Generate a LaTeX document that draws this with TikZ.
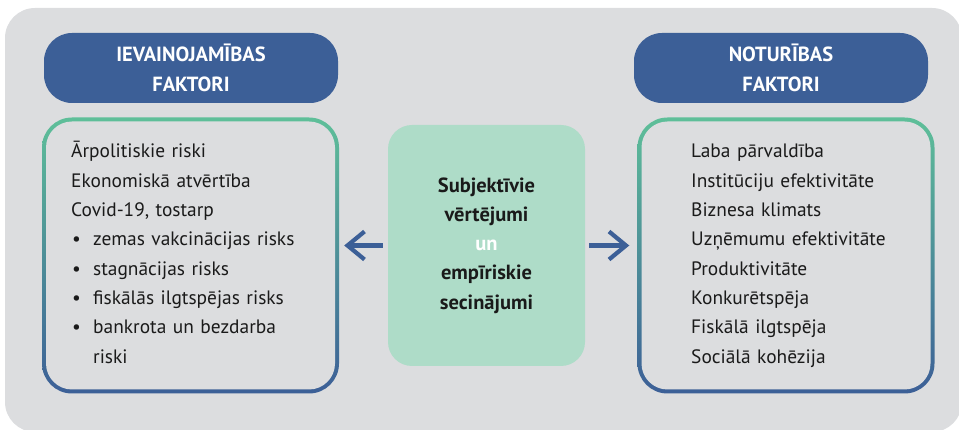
\documentclass[tikz,border=0pt]{standalone}
\usepackage{fontspec}
\setmainfont{PT Sans}
\usetikzlibrary{arrows.meta}
\definecolor{bggrey}{HTML}{DCDDDF}
\definecolor{hblue}{HTML}{3C5F97}
\definecolor{tgreen}{HTML}{5EBF99}
\definecolor{cfill}{HTML}{AEDCC8}
\definecolor{txt}{HTML}{1A1A1A}
\tikzset{
  header/.style={fill=hblue, rounded corners=28pt, minimum width=294pt, minimum height=70pt,
    inner sep=0pt, text=white, font=\bfseries\fontsize{20.5}{30}\selectfont, align=center},
  gradbox/.style={top color=tgreen, bottom color=hblue, draw=none, rounded corners=30pt,
    minimum width=297pt, minimum height=276pt, inner sep=0pt},
  innerbox/.style={fill=bggrey, rounded corners=26pt, minimum width=289pt,
    minimum height=268pt, inner sep=0pt},
  listtext/.style={anchor=base west, inner sep=0pt, text width=250pt, align=left,
    text=txt, font=\fontsize{19.4}{29.3}\selectfont},
  centerbox/.style={fill=cfill, rounded corners=24pt, minimum width=197pt,
    minimum height=241pt, inner sep=0pt, align=center, text=txt,
    font=\bfseries\fontsize{20.5}{29.2}\selectfont},
  arr/.style={draw=hblue, line width=4.2pt, -{Straight Barb[length=17pt,width=28pt]}},
  bgpanel/.style={fill=bggrey, rounded corners=30pt}
}
\newcommand{\bul}{\makebox[22pt][l]{\hspace{1pt}\textbullet}}
\begin{document}
\begin{tikzpicture}[x=1pt,y=1pt]
\useasboundingbox (0,0) rectangle (959,-430);
\fill[bgpanel] (5,-8) rectangle (962,-432);
% headers
\node[header] (lhead) at (191,-68) {IEVAINOJAMĪBAS\\FAKTORI};
\node[header] (rhead) at (781,-68) {NOTURĪBAS\\FAKTORI};
% left box
\node[gradbox] (lbox) at (190.5,-255.5) {};
\node[innerbox] (lin) at (lbox.center) {};
\node[listtext] (ltext) at (71,-158) {Ārpolitiskie riski\\
Ekonomiskā atvērtība\\
Covid-19, tostarp\\
\bul zemas vakcinācijas risks\\
\bul stagnācijas risks\\
\bul fiskālās ilgtspējas risks\\
\bul bankrota un bezdarba\\
\hspace*{22pt}riski};
% right box
\node[gradbox] (rbox) at (786,-255.5) {};
\node[innerbox] (rin) at (rbox.center) {};
\node[listtext] (rtext) at (691,-158) {Laba pārvaldība\\
Institūciju efektivitāte\\
Biznesa klimats\\
Uzņēmumu efektivitāte\\
Produktivitāte\\
Konkurētspēja\\
Fiskālā ilgtspēja\\
Sociālā kohēzija};
% center
\node[centerbox] (cbox) at (486.5,-245.5) {Subjektīvie\\vērtējumi\\\textcolor{white}{un}\\empīriskie\\secinājumi};
% arrows
\draw[arr, shorten <=5pt, shorten >=5pt] (cbox.west) -- (cbox.west -| lbox.east);
\draw[arr, shorten <=4pt, shorten >=8pt] (cbox.east) -- (cbox.east -| rbox.west);
\end{tikzpicture}
\end{document}
